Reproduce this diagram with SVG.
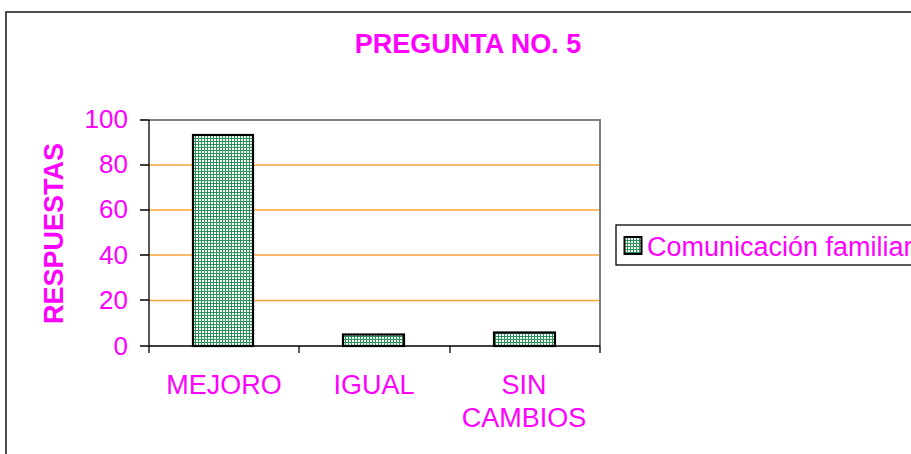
<svg xmlns="http://www.w3.org/2000/svg" width="911" height="454" viewBox="0 0 911 454">
<style>
text{font-family:"Liberation Sans",Arial,sans-serif;fill:#ff00ff}
.tick{font-size:26px;text-anchor:end}
.cat{font-size:27px;text-anchor:middle}
.title{font-size:27px;font-weight:bold;text-anchor:middle}
.grid{stroke:#f7a535;stroke-width:1.3}
.bar{fill:url(#hatch);stroke:#000;stroke-width:2.2}
.axis{stroke:#000;stroke-width:1.3;fill:none}
</style>
<defs>
<pattern id="hatch" width="3" height="3" patternUnits="userSpaceOnUse">
<rect width="3" height="3" fill="#2a9358"/>
<rect x="1" y="1" width="2" height="2" fill="#ffffff"/>
</pattern>
</defs>
<rect width="911" height="454" fill="#fff"/>
<rect x="6" y="12" width="1000" height="500" fill="none" stroke="#222" stroke-width="1.6"/>
<g id="title"><text class="title" x="468" y="53">PREGUNTA NO. 5</text></g>
<g id="plot">
<line class="grid" x1="149" y1="165" x2="600" y2="165"/>
<line class="grid" x1="149" y1="210" x2="600" y2="210"/>
<line class="grid" x1="149" y1="255" x2="600" y2="255"/>
<line class="grid" x1="149" y1="300.5" x2="600" y2="300.5" stroke="#ffc56e"/>
<polyline points="149,120 600,120 600,346" fill="none" stroke="#808080" stroke-width="2"/>
<path class="axis" d="M149,120V346M140,346H600M140,120H149M140,165H149M140,210H149M140,255H149M140,300H149M149,346V353M299,346V353M450,346V353M600,346V353"/>
</g>
<g id="bars">
<rect id="bar-mejoro" class="bar" x="193" y="135" width="60" height="211"/>
<rect id="bar-igual" class="bar" x="343" y="334.5" width="61" height="11.5"/>
<rect id="bar-sin-cambios" class="bar" x="494" y="332.5" width="61" height="13.5"/>
</g>
<g id="y-labels">
<text class="tick" x="128" y="128">100</text>
<text class="tick" x="128" y="173">80</text>
<text class="tick" x="128" y="218">60</text>
<text class="tick" x="128" y="264">40</text>
<text class="tick" x="128" y="309">20</text>
<text class="tick" x="128" y="355">0</text>
</g>
<g id="y-title"><text class="title" transform="translate(63,233.5) rotate(-90)" x="0" y="0">RESPUESTAS</text></g>
<g id="x-labels">
<text class="cat" x="224" y="394">MEJORO</text>
<text class="cat" x="374" y="394">IGUAL</text>
<text class="cat" x="524" y="394">SIN</text>
<text class="cat" x="524" y="427">CAMBIOS</text>
</g>
<g id="legend">
<rect x="616" y="225" width="400" height="40" fill="#fff" stroke="#000" stroke-width="1.3"/>
<rect x="624.5" y="237" width="17" height="17" fill="url(#hatch)" stroke="#000" stroke-width="2"/>
<text x="647" y="256" style="font-size:27px">Comunicación familiar</text>
</g>
</svg>
